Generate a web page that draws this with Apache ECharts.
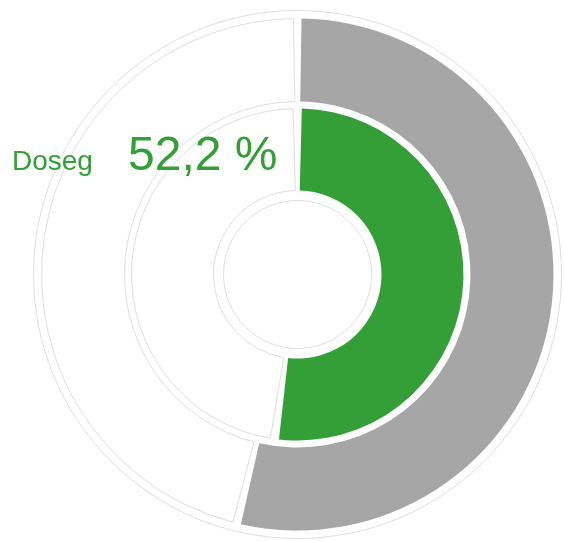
<!DOCTYPE html>
<html>
<head>
<meta charset="utf-8">
<script src="https://cdn.jsdelivr.net/npm/echarts@6/dist/echarts.min.js"></script>
<style>
  html, body { margin: 0; padding: 0; background: #fff; }
  #chart { width: 564px; height: 541px; }
</style>
</head>
<body>
<div id="chart"></div>
<script>
  // two rings: outer = plan (grey), inner = achieved (green)
  const ringNames = ["Plan", "Doseg"];
  const ringValues = [53.8, 52.2];
  const labelName = "Doseg";
  const labelValue = 52.2;

  const GREEN = "#349e37";
  const GREY = "#a6a6a6";
  const LINE = "#dedede";
  const CENTER = [297.5, 274.5];

  const chart = echarts.init(document.getElementById("chart"), null, { renderer: "canvas" });

  function ringData(i, color) {
    return [
      { name: ringNames[i], value: ringValues[i], itemStyle: { color } },
      {
        name: "",
        value: +(100 - ringValues[i]).toFixed(1),
        itemStyle: { color: "#ffffff", borderColor: LINE, borderWidth: 1 }
      }
    ];
  }

  function outline(radius) {
    return {
      type: "pie",
      center: CENTER,
      radius: [0, radius],
      silent: true,
      label: { show: false },
      labelLine: { show: false },
      data: [{ value: 1, itemStyle: { color: "rgba(0,0,0,0)", borderColor: LINE, borderWidth: 1 } }]
    };
  }

  const pctText = labelValue.toFixed(1).replace(".", ",") + " %";

  chart.setOption({
    animation: false,
    title: [
      {
        text: labelName,
        left: 12,
        top: 148,
        padding: 0,
        textStyle: { color: GREEN, fontSize: 28, fontWeight: "normal", fontFamily: "Liberation Sans", lineHeight: 28 }
      },
      {
        text: pctText,
        left: 128,
        top: 133,
        padding: 0,
        textStyle: { color: GREEN, fontSize: 48, fontWeight: "normal", fontFamily: "Liberation Sans", lineHeight: 48 }
      }
    ],
    series: [
      outline(264),
      {
        type: "pie",
        center: CENTER,
        radius: [173, 256],
        startAngle: 90,
        clockwise: true,
        padAngle: 1.8,
        silent: true,
        label: { show: false },
        labelLine: { show: false },
        data: ringData(0, GREY)
      },
      {
        type: "pie",
        center: CENTER,
        radius: [84, 166],
        startAngle: 90,
        clockwise: true,
        padAngle: 3,
        silent: true,
        label: { show: false },
        labelLine: { show: false },
        data: ringData(1, GREEN)
      },
      outline(74)
    ]
  });
</script>
</body>
</html>
